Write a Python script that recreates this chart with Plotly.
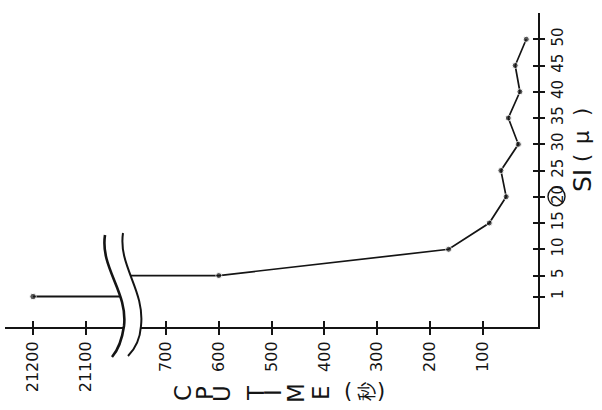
import plotly.graph_objects as go

# --- data -----------------------------------------------------------------
si_values = [1, 5, 10, 15, 20, 25, 30, 35, 40, 45, 50]          # SI (μ)
cpu_seconds = [21200, 600, 165, 88, 56, 66, 33, 52, 30, 39, 18]  # CPU TIME (秒)

cpu_tick_low = [100, 200, 300, 400, 500, 600, 700]
cpu_tick_high = [21100, 21200]
si_ticks = [1, 5, 10, 15, 20, 25, 30, 35, 40, 45, 50]
si_circled = 20

W, H = 602, 410
INK = "#141414"
FONT = "DejaVu Sans"


def px(x):
    return x / W


def py(y):
    return 1 - y / H


# axis ranges (CPU axis runs right-to-left, SI axis bottom-to-top)
low_range = [787, -4.2]
high_range = [21253, 21017]
si_range = [-4.8, 55]

# split the series at the axis break
high_x = [v for v in cpu_seconds if v > 1000]
high_y = [s for s, v in zip(si_values, cpu_seconds) if v > 1000]
low_x = [v for v in cpu_seconds if v <= 1000]
low_y = [s for s, v in zip(si_values, cpu_seconds) if v <= 1000]

fig = go.Figure()

# upper segment: runs from its point to the break
fig.add_trace(go.Scatter(
    x=high_x + [high_range[1]], y=high_y + [high_y[-1]],
    xaxis="x2", yaxis="y", mode="lines+markers",
    line=dict(color=INK, width=2),
    marker=dict(color=INK, size=[6.5] * len(high_x) + [0]),
    showlegend=False, hoverinfo="skip"))

# lower segment: starts at the break and runs through the remaining points
fig.add_trace(go.Scatter(
    x=[low_range[0]] + low_x, y=[low_y[0]] + low_y,
    xaxis="x", yaxis="y", mode="lines+markers",
    line=dict(color=INK, width=1.7),
    marker=dict(color=INK, size=[0] + [6] * len(low_x)),
    showlegend=False, hoverinfo="skip"))

# empty traces so the overlay axes (inner half of the crossing ticks) are drawn
for xa, ya in (("x3", "y"), ("x4", "y"), ("x", "y2")):
    fig.add_trace(go.Scatter(x=[], y=[], xaxis=xa, yaxis=ya, showlegend=False))

x_low_dom = [px(120), px(538)]
x_high_dom = [px(5), px(130)]
y_dom = [py(327), py(13)]

tickfont_x = dict(family=FONT, size=16, color=INK)
tickfont_y = dict(family=FONT, size=15, color=INK)
common_x = dict(showline=True, linecolor=INK, linewidth=2, showgrid=False,
                zeroline=False, ticks="outside", ticklen=6, tickwidth=1.8,
                tickcolor=INK, tickangle=-90, tickfont=tickfont_x,
                automargin=False, fixedrange=True)

fig.update_layout(
    width=W, height=H, margin=dict(l=0, r=0, t=0, b=0),
    paper_bgcolor="white", plot_bgcolor="rgba(0,0,0,0)",
    xaxis=dict(domain=x_low_dom, range=low_range, anchor="y",
               tickvals=cpu_tick_low, ticktext=[str(v) for v in cpu_tick_low],
               **common_x),
    xaxis2=dict(domain=x_high_dom, range=high_range, anchor="y",
                tickvals=cpu_tick_high, ticktext=[str(v) for v in cpu_tick_high],
                **common_x),
    xaxis3=dict(overlaying="x", range=low_range, anchor="y", showline=False,
                showgrid=False, zeroline=False, ticks="inside", ticklen=6,
                tickwidth=1.8, tickcolor=INK, tickvals=cpu_tick_low,
                showticklabels=False, fixedrange=True),
    xaxis4=dict(overlaying="x2", range=high_range, anchor="y", showline=False,
                showgrid=False, zeroline=False, ticks="inside", ticklen=6,
                tickwidth=1.8, tickcolor=INK, tickvals=cpu_tick_high,
                showticklabels=False, fixedrange=True),
    yaxis=dict(domain=y_dom, range=si_range, anchor="x", side="right",
               showline=True, linecolor=INK, linewidth=2, showgrid=False,
               zeroline=False, ticks="outside", ticklen=5, tickwidth=1.8,
               tickcolor=INK, tickvals=si_ticks,
               ticktext=[str(v) for v in si_ticks], tickangle=-90,
               tickfont=tickfont_y, automargin=False, fixedrange=True),
    yaxis2=dict(overlaying="y", range=si_range, anchor="x", side="right",
                showline=False, showgrid=False, zeroline=False,
                ticks="inside", ticklen=5, tickwidth=1.8, tickcolor=INK,
                tickvals=si_ticks, showticklabels=False, fixedrange=True),
)


# --- axis break symbol ------------------------------------------------------
def pt(x, y):
    return f"{px(x):.5f},{py(y):.5f}"


curve_a = [(105, 235), (100, 268), (128, 292), (124, 326), (122, 340), (118, 350), (112, 357)]
curve_b = [(123, 233), (118, 266), (145, 290), (141, 326), (140, 340), (134, 350), (128, 356)]


def curve_path(c):
    return (f"M {pt(*c[0])} C {pt(*c[1])} {pt(*c[2])} {pt(*c[3])} "
            f"C {pt(*c[4])} {pt(*c[5])} {pt(*c[6])}")


rb = curve_b[::-1]
band = (curve_path(curve_a) + f" L {pt(*rb[0])} C {pt(*rb[1])} {pt(*rb[2])} {pt(*rb[3])} "
        f"C {pt(*rb[4])} {pt(*rb[5])} {pt(*rb[6])} Z")

fig.add_shape(type="path", path=band, xref="paper", yref="paper",
              fillcolor="white", line=dict(width=0), layer="above")
fig.add_shape(type="path", path=curve_path(curve_a), xref="paper", yref="paper",
              line=dict(color=INK, width=2.6), layer="above")
fig.add_shape(type="path", path=curve_path(curve_b), xref="paper", yref="paper",
              line=dict(color=INK, width=2.0), layer="above")

# circled tick label
fig.add_shape(type="circle", xref="paper", yref="y",
              x0=px(548), x1=px(565), y0=si_circled - 1.7, y1=si_circled + 1.8,
              line=dict(color=INK, width=1.4), layer="above")

# --- axis titles --------------------------------------------------------------
def label(text, x, y, size, angle=-90):
    fig.add_annotation(text=text, x=px(x), y=py(y), xref="paper", yref="paper",
                       showarrow=False, textangle=angle, xanchor="center",
                       yanchor="middle",
                       font=dict(family=FONT, size=size, color=INK))


for ch, x in zip("CPUTIME", [183, 205, 222, 256, 273, 296, 321]):
    label(ch, x, 393, 23)
label("(", 348, 391, 21, angle=0)
label("秒", 366, 392, 19)
label(")", 381, 391, 21, angle=0)

label("SI", 583, 181, 25)
label("(", 582, 158, 21)
label("μ", 582, 138, 21)
label(")", 582, 112, 21)

fig.write_html("out.html")
